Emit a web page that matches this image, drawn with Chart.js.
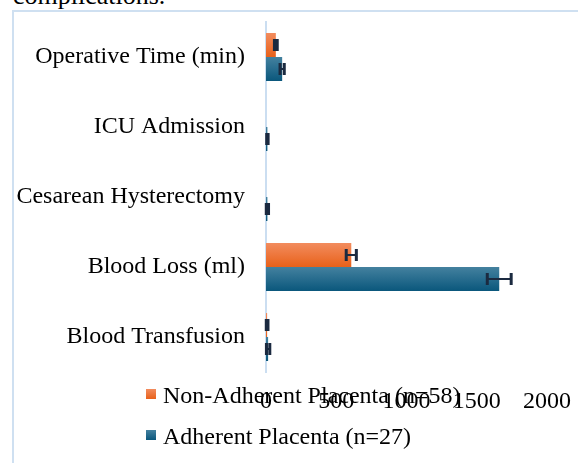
<!DOCTYPE html>
<html>
<head>
<meta charset="utf-8">
<script src="https://cdn.jsdelivr.net/npm/chart.js@4"></script>
<style>
  body { margin: 0; background: #fff; }
  #wrap { position: relative; width: 578px; height: 463px; overflow: hidden; }
  #frame { position: absolute; left: 12px; top: 10px; width: 620px; height: 520px; border: 2px solid #cfe0f1; }
  #caption { position: absolute; left: 13px; top: -17px; font: 26px/26px "Liberation Serif", serif; color: #000; white-space: nowrap; }
  canvas { position: absolute; left: 0; top: 0; }
</style>
</head>
<body>
<div id="wrap">
  <div id="caption">complications.</div>
  <div id="frame"></div>
  <canvas id="chart" width="578" height="463"></canvas>
</div>
<script>
// values
var categories = ["Operative Time (min)", "ICU Admission", "Cesarean Hysterectomy", "Blood Loss (ml)", "Blood Transfusion"];
var nonAdherent = [70, 0, 0, 607, 8];
var nonAdherentErr = [10, 0, 0, 36, 6];
var adherent = [115, 10, 10, 1660, 15];
var adherentErr = [15, 5, 8, 85, 12];
var xTicks = [0, 500, 1000, 1500, 2000];

var seriesNames = ["Non-Adherent Placenta (n=58)", "Adherent Placenta (n=27)"];
var catPct = 0.686;
var serif = "'Liberation Serif', 'Times New Roman', serif";

var shades = [["#f28c5e", "#e8611a"], ["#44819f", "#0a577c"]];

function barFill(ctx) {
	var chart = ctx.chart;
	var ys = chart.scales.y;
	var c = shades[ctx.datasetIndex];
	if (!ys || !chart.chartArea) return c[1];
	var yc = ys.getPixelForValue(ctx.dataIndex);
	var half = (ys.bottom - ys.top) / categories.length * catPct / 2;
	var top = ctx.datasetIndex === 0 ? yc - half : yc;
	var g = chart.ctx.createLinearGradient(0, top, 0, top + half);
	g.addColorStop(0, c[0]);
	g.addColorStop(1, c[1]);
	return g;
}

// horizontal error bars
var errorBars = {
	id: "errorBars",
	afterDatasetsDraw: function (chart) {
		var ctx = chart.ctx;
		var xs = chart.scales.x;
		ctx.save();
		ctx.strokeStyle = "#1b2a40";
		chart.data.datasets.forEach(function (ds, i) {
			var meta = chart.getDatasetMeta(i);
			meta.data.forEach(function (bar, j) {
				var e = ds.errors[j];
				if (!e) return;
				var lo = xs.getPixelForValue(ds.data[j] - e);
				var hi = xs.getPixelForValue(ds.data[j] + e);
				ctx.lineWidth = 2;
				ctx.beginPath();
				ctx.moveTo(lo, bar.y);
				ctx.lineTo(hi, bar.y);
				ctx.stroke();
				ctx.lineWidth = 3;
				ctx.beginPath();
				ctx.moveTo(lo, bar.y - 6);
				ctx.lineTo(lo, bar.y + 6);
				ctx.moveTo(hi, bar.y - 6);
				ctx.lineTo(hi, bar.y + 6);
				ctx.stroke();
			});
		});
		ctx.restore();
	}
};

// legend drawn over the axis labels like in the original
var lowLegend = {
	id: "lowLegend",
	afterDraw: function (chart) {
		var ctx = chart.ctx;
		ctx.save();
		ctx.font = "24px " + serif;
		ctx.textBaseline = "alphabetic";
		ctx.fillStyle = "#000";
		var baselines = [403, 444];
		seriesNames.forEach(function (name, i) {
			var b = baselines[i];
			var g = ctx.createLinearGradient(0, b - 14, 0, b - 4);
			g.addColorStop(0, shades[i][0]);
			g.addColorStop(1, shades[i][1]);
			ctx.fillStyle = g;
			ctx.fillRect(146, b - 14, 10, 10);
			ctx.fillStyle = "#000";
			ctx.fillText(name, 163, b);
		});
		ctx.restore();
	}
};

new Chart(document.getElementById("chart"), {
	type: "bar",
	data: {
		labels: categories,
		datasets: [
			{
				label: seriesNames[0],
				data: nonAdherent,
				errors: nonAdherentErr,
				backgroundColor: barFill,
				borderWidth: 0,
				categoryPercentage: catPct,
				barPercentage: 1,
			},
			{
				label: seriesNames[1],
				data: adherent,
				errors: adherentErr,
				backgroundColor: barFill,
				borderWidth: 0,
				categoryPercentage: catPct,
				barPercentage: 1,
			},
		]
	},
	options: {
		indexAxis: "y",
		responsive: false,
		animation: false,
		layout: { padding: { top: 22, right: 24, left: 0, bottom: 0 } },
		plugins: {
			legend: { display: false },
			tooltip: { enabled: false }
		},
		scales: {
			x: {
				min: 0,
				max: 2000,
				afterBuildTicks: function (s) {
					s.ticks = xTicks.map(function (v) { return { value: v }; });
				},
				grid: { display: false },
				border: { display: false },
				ticks: {
					color: "#000", padding: 7, font: { family: serif, size: 24 },
					callback: function (v) { return String(v); }
				},
				afterFit: function (s) { s.height = 91; }
			},
			y: {
				grid: { drawOnChartArea: false, drawTicks: false },
				border: { display: true, color: "#cbdef1", width: 2 },
				ticks: { color: "#000", padding: 21, font: { family: serif, size: 24 } },
				afterFit: function (s) {
					s.width = 266;
					s.paddingTop = 0;
					s.paddingBottom = 0;
				}
			}
		}
	},
	plugins: [errorBars, lowLegend]
});
</script>
</body>
</html>
